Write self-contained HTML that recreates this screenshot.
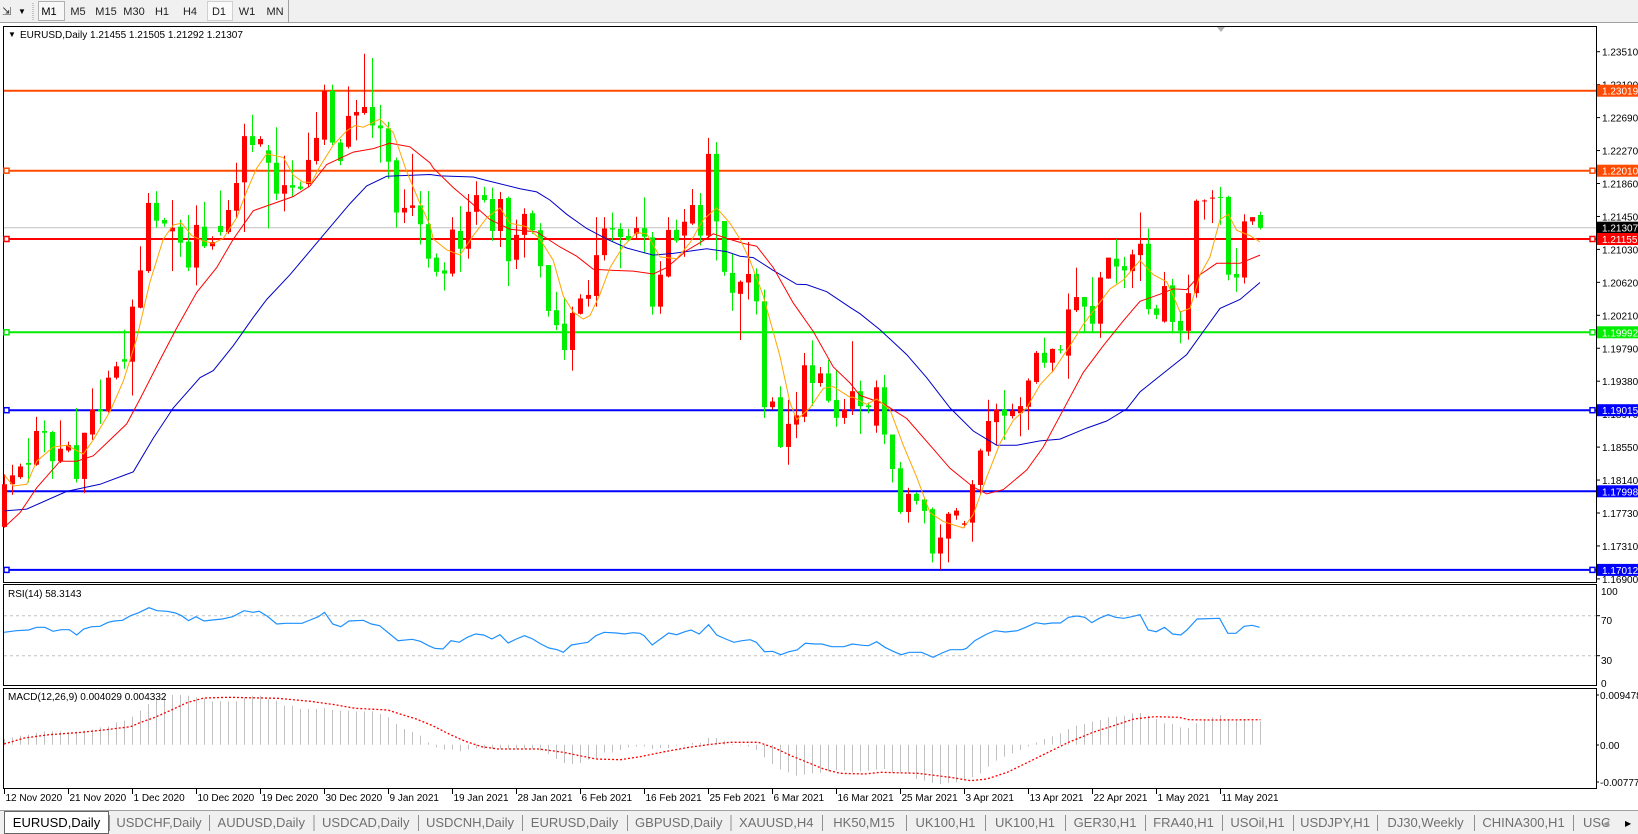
<!DOCTYPE html>
<html><head><meta charset="utf-8">
<style>
html,body{margin:0;padding:0;background:#fff;width:1638px;height:834px;overflow:hidden}
svg{display:block;font-family:"Liberation Sans",Arial,sans-serif}
</style></head>
<body>
<svg id="s" width="1638" height="834" xmlns="http://www.w3.org/2000/svg">
<rect x="0" y="0" width="1638" height="834" fill="#fff"/>
<!-- toolbar -->
<rect x="0" y="0" width="1638" height="23" fill="#f0f0f0"/>
<line x1="0" y1="22.5" x2="1638" y2="22.5" stroke="#a0a0a0"/>
<text x="2" y="15" font-size="11" fill="#333">⇲</text>
<text x="18" y="14" font-size="8" fill="#000">▼</text>
<line x1="33" y1="3" x2="33" y2="20" stroke="#999" stroke-dasharray="1,1"/>
<rect x="38.5" y="1.5" width="26" height="19" fill="#f7f7f7" stroke="#b0b0b0"/>
<rect x="207.5" y="1.5" width="25" height="19" fill="#fafafa" stroke="#d0d0d0"/>
<line x1="288.5" y1="0" x2="288.5" y2="22" stroke="#a0a0a0"/>
<g font-size="11" fill="#222" text-anchor="middle">
<text x="49" y="15" fill="#000">M1</text><text x="78" y="15">M5</text><text x="106" y="15">M15</text><text x="134" y="15">M30</text><text x="162" y="15">H1</text><text x="190" y="15">H4</text><text x="219" y="15">D1</text><text x="247" y="15">W1</text><text x="275" y="15">MN</text>
</g>
<!-- panes -->
<rect x="3.5" y="26.5" width="1593" height="556" fill="#fff" stroke="#000"/>
<rect x="3.5" y="584.5" width="1593" height="101" fill="#fff" stroke="#000"/>
<rect x="3.5" y="688.5" width="1593" height="100" fill="#fff" stroke="#000"/>
<!-- tabs background -->
<rect x="0" y="810" width="1638" height="24" fill="#f0f0f0"/>
<line x1="0" y1="810.5" x2="1638" y2="810.5" stroke="#a0a0a0"/>
<rect x="4.5" y="811.5" width="104" height="22" fill="#fff" stroke="#666"/>
<g id="g"></g>
<polygon points="1217,27 1225,27 1221,32" fill="#b0b0b0"/>
<text x="8" y="37" font-size="8" fill="#000">▼</text>
<text x="20" y="38" font-size="10" fill="#000">EURUSD,Daily  1.21455 1.21505 1.21292 1.21307</text>
<text x="8" y="597" font-size="10" fill="#000">RSI(14) 58.3143</text>
<text x="8" y="700" font-size="10" fill="#000">MACD(12,26,9) 0.004029 0.004332</text>
</svg>
<script>
var NS="http://www.w3.org/2000/svg",G=document.getElementById('g');
function el(t,a,txt){var e=document.createElementNS(NS,t);for(var k in a)e.setAttribute(k,a[k]);if(txt!=null)e.textContent=txt;G.appendChild(e);return e;}
function Y(z){return 26+z/2.815;}
var labs=["1.23510","1.23100","1.22690","1.22270","1.21860","1.21450","1.21030","1.20620","1.20210","1.19790","1.19380","1.18970","1.18550","1.18140","1.17730","1.17310","1.16900"];
for(var k=0;k<labs.length;k++){var y=51.7+k*32.95;el('line',{x1:1596,y1:y,x2:1600,y2:y,stroke:'#000'});el('text',{x:1602,y:y+4,'font-size':10,fill:'#000'},labs[k]);}
var lv=[[90.7,'#ff4a00','1.23019',0],[170.7,'#ff4a00','1.22010',1],[239,'#ff0000','1.21155',1],[332.3,'#00ee00','1.19992',1],[410.2,'#0000ff','1.19015',1],[491.3,'#0000ff','1.17998',0],[569.9,'#0000ff','1.17012',1]];
el('line',{x1:4,y1:227.7,x2:1596,y2:227.7,stroke:'#c0c0c0'});
el('rect',{x:1597,y:221.7,width:41,height:12,fill:'#000'});el('text',{x:1602,y:231.5,'font-size':10,fill:'#fff'},'1.21307');
lv.forEach(function(l){el('line',{x1:4,y1:l[0],x2:1596,y2:l[0],stroke:l[1],'stroke-width':2});
 if(l[3]){el('rect',{x:4,y:l[0]-2.5,width:5,height:5,fill:'#fff',stroke:l[1],'stroke-width':1.5});el('rect',{x:1590,y:l[0]-2.5,width:5,height:5,fill:'#fff',stroke:l[1],'stroke-width':1.5});}
 el('rect',{x:1597,y:l[0]-6,width:41,height:12,fill:l[1]});el('text',{x:1602,y:l[0]+4,'font-size':10,fill:'#fff'},l[2]);});
var B=[[1290,1410,1262,1412,'r'],[1265,1290,1235,1320,'r'],[1240,1270,1232,1275,'r'],[1230,1235,1160,1285,'g'],[1140,1235,1100,1238,'r'],[1140,1145,1110,1200,'g'],[1143,1225,1140,1275,'g'],[1190,1225,1110,1230,'r'],[1180,1195,1170,1200,'r'],[1180,1275,1075,1285,'g'],
[1145,1275,1145,1315,'r'],[1080,1150,1020,1165,'r'],[1080,1085,995,1120,'g'],[990,1085,970,1088,'r'],[958,990,945,995,'r'],[938,945,855,965,'g'],[790,945,770,1040,'r'],[688,793,620,795,'r'],[498,690,470,695,'r'],[498,548,465,568,'g'],
[546,556,540,565,'g'],[568,578,490,690,'r'],[565,610,545,650,'g'],[607,680,532,690,'g'],[560,680,505,730,'r'],[565,620,495,625,'g'],[608,620,592,630,'r'],[563,580,463,590,'g'],[518,580,490,585,'r'],[442,520,385,540,'r'],
[310,440,275,580,'r'],[310,335,250,355,'g'],[318,333,310,340,'r'],[350,385,335,570,'g'],[385,472,285,490,'g'],[448,472,365,522,'r'],[448,455,378,480,'g'],[452,458,438,462,'g'],[377,445,300,455,'r'],[315,380,242,390,'r'],
[183,320,165,335,'r'],[183,328,165,335,'g'],[328,380,318,392,'g'],[253,340,170,345,'r'],[242,252,208,322,'r'],[228,245,78,250,'r'],[228,280,90,315,'g'],[280,288,222,385,'g'],[288,382,270,430,'g'],[378,525,370,568,'g'],
[512,525,460,555,'r'],[505,512,360,535,'r'],[505,558,465,615,'g'],[558,655,465,680,'g'],[652,692,640,705,'g'],[688,697,665,745,'g'],[573,697,538,705,'r'],[577,627,507,692,'g'],[523,627,473,655,'r'],[476,523,437,560,'r'],
[476,490,453,497,'g'],[487,577,455,605,'g'],[487,577,467,622,'r'],[484,662,480,732,'g'],[588,658,545,684,'r'],[529,588,513,652,'r'],[527,575,519,585,'g'],[575,676,555,708,'g'],[673,802,673,818,'g'],[800,842,748,856,'g'],
[838,912,765,940,'g'],[808,912,790,970,'r'],[767,810,755,812,'r'],[757,768,715,790,'r'],[645,760,538,790,'r'],[570,645,538,660,'r'],[569,573,525,608,'g'],[571,594,555,682,'g'],[591,603,571,606,'g'],[569,585,537,600,'r'],
[569,593,482,640,'g'],[595,790,580,813,'g'],[700,790,662,810,'r'],[574,705,538,708,'r'],[574,604,545,610,'g'],[551,590,515,650,'r'],[504,556,459,560,'r'],[504,590,470,618,'g'],[360,590,315,600,'r'],[360,550,327,660,'g'],
[549,692,549,703,'g'],[695,751,640,802,'g'],[720,754,716,884,'r'],[698,722,608,770,'r'],[698,775,682,812,'g'],[775,1073,742,1103,'g'],[1057,1073,1045,1080,'r'],[1045,1185,1014,1188,'g'],[1120,1185,1052,1235,'r'],[1096,1122,1030,1160,'r'],
[955,1100,920,1115,'r'],[955,1005,885,1070,'g'],[978,1005,960,1015,'r'],[978,1055,940,1060,'g'],[1053,1103,968,1128,'g'],[1080,1103,1050,1120,'r'],[1028,1078,887,1095,'r'],[1028,1070,998,1148,'g'],[1068,1073,1060,1090,'g'],[1017,1125,998,1145,'r'],
[1017,1150,982,1177,'g'],[1150,1247,1150,1285,'g'],[1245,1368,1227,1373,'g'],[1317,1368,1300,1398,'r'],[1317,1337,1313,1347,'g'],[1333,1365,1330,1400,'g'],[1360,1485,1355,1510,'g'],[1440,1485,1403,1530,'r'],[1373,1443,1368,1510,'r'],[1364,1378,1357,1390,'r'],
[1400,1404,1393,1412,'r'],[1290,1398,1278,1452,'r'],[1195,1292,1190,1320,'r'],[1112,1198,1052,1210,'r'],[1080,1115,1063,1180,'r'],[1080,1097,1025,1165,'g'],[1083,1098,1063,1105,'r'],[1070,1090,1045,1155,'r'],[998,1072,992,1137,'r'],[920,1002,915,1007,'r'],
[920,948,877,962,'g'],[909,948,908,975,'r'],[910,913,898,922,'g'],[798,928,753,993,'r'],[763,800,680,805,'r'],[763,790,763,865,'g'],[788,838,707,860,'g'],[708,838,692,878,'r'],[652,711,652,712,'r'],[655,677,600,725,'g'],
[676,688,650,738,'g'],[643,690,630,738,'r'],[613,645,525,718,'r'],[613,797,570,812,'g'],[795,813,785,825,'g'],[732,832,692,835,'r'],[730,833,712,865,'g'],[830,858,802,893,'g'],[752,858,700,883,'r'],[492,752,488,765,'r'],
[491,493,488,545,'r'],[483,486,462,555,'r'],[481,483,453,560,'g'],[481,700,478,716,'g'],[698,708,625,748,'g'],[550,708,530,725,'r'],[538,550,538,560,'r'],[532,568,523,573,'g']];
B.forEach(function(b,i){var x=4.5+8*i,c=b[4]=='r'?'#ff0000':'#00ee00';
 el('line',{x1:x,y1:Y(b[2]),x2:x,y2:Y(b[3]),stroke:c});
 var t=Y(b[0]),h=Math.max(1,Y(b[1])-t);el('rect',{x:x-2.5,y:t,width:5,height:h,fill:c});});
function poly(segs,col,w,xs,ys,y0,extra){var p=[];segs.forEach(function(s){var o=s[0],a=s[1];for(var j=0;j<a.length;j+=2)p.push((o+a[j]/xs).toFixed(1)+','+(y0+a[j+1]/ys).toFixed(1));});
 var at={points:p.join(' '),fill:'none',stroke:col,'stroke-width':w};for(var k in extra)at[k]=extra[k];el('polyline',at);}
poly([[0,[14,1365,80,1360,200,1310,300,1290,400,1255,460,1160,520,1075,600,990,640,970,700,900,760,820,800,770,870,700,960,600,1050,500,1100,450,1160,423,1290,418]],
[420,[60,422,160,425,200,435,300,458,350,467,390,490,440,530,500,570,560,600,620,625,700,645,760,640,860,627,920,635,960,648,1000,652,1060,688,1130,727,1160,728,1220,748,1290,792]],
[840,[60,810,120,855,200,925,260,990,330,1075,400,1140,470,1180,530,1180,600,1168,660,1163,740,1132,800,1112,860,1078,900,1030,960,985,1040,925,1090,860,1140,795,1200,770,1260,722]]],'#0000c8',1,3,2.815,26);
poly([[0,[14,1410,60,1370,110,1300,180,1225,230,1225,280,1210,330,1165,380,1120,420,1050,480,940,530,850,590,750,650,680,700,600,760,520,820,500,880,480,930,450,980,390,1060,355,1120,345,1170,330,1230,340,1290,385]],
[420,[40,400,100,455,150,495,210,545,270,572,350,580,420,622,470,648,520,685,580,688,640,690,700,698,740,680,800,632,840,610,880,585,920,598,970,612,1010,620,1060,680,1120,780,1180,860,1240,960,1290,1005]],
[840,[60,1040,130,1063,200,1105,270,1180,330,1245,400,1298,440,1317,490,1305,560,1250,610,1185,670,1080,730,975,790,900,850,830,900,775,960,755,1000,740,1040,742,1080,700,1130,668,1200,668,1260,645]]],'#ff0000',1,3,2.815,26);
poly([[0,[14,1265,40,1295,80,1290,110,1225,160,1185,200,1180,250,1205,280,1165,330,1085,370,1000,410,880,450,720,490,600,520,560,545,555,575,590,610,605,640,612,670,598,710,540,740,465,770,400,800,360,850,370,880,420,910,440,935,440,960,395,1000,335,1040,295,1065,280,1090,285,1140,262,1180,300,1220,410,1260,500,1290,560]],
[420,[40,600,80,630,120,645,160,590,200,540,240,512,270,555,320,565,360,600,400,660,430,760,460,805,490,825,510,815,540,755,570,680,610,620,650,582,680,585,720,650,770,655,810,610,850,545,890,512,930,555,960,600,990,660,1030,760,1080,930,1110,1060,1130,1108,1170,1075,1210,1020,1240,1015,1290,1045]],
[840,[40,1045,80,1065,110,1050,150,1080,190,1180,230,1270,270,1370,310,1395,370,1413,400,1375,440,1270,480,1175,520,1110,560,1075,600,1010,640,970,690,900,730,840,770,790,810,740,850,715,900,660,940,700,980,720,1000,760,1020,805,1050,795,1080,700,1110,650,1140,545,1165,530,1190,575,1230,590,1260,608]]],'#ffa500',1,3,2.815,26);
el('line',{x1:4,y1:615.7,x2:1596,y2:615.7,stroke:'#c0c0c0','stroke-dasharray':'3,3'});
el('line',{x1:4,y1:655.7,x2:1596,y2:655.7,stroke:'#c0c0c0','stroke-dasharray':'3,3'});
poly([[0,[10,145,40,140,70,138,90,130,110,130,130,142,150,137,170,137,188,153,205,135,225,128,245,127,265,115,280,111,300,109,320,95,340,86,365,71,385,80,410,82,430,87,445,95,462,110,480,98,500,111,520,108,545,105,570,98,598,80,620,85,635,82,655,97,678,120,700,118,740,118,760,108,780,98,795,85,815,120,835,128,855,111,890,109,910,120,930,125,955,150,975,170,1010,166,1030,172,1050,185,1065,193,1085,195,1105,170,1125,175,1145,160,1165,150,1185,153,1205,165,1225,152,1245,177,1265,165,1285,155,1305,165,1325,180,1345,192,1365,197,1380,205,1400,183,1425,178,1440,175,1460,155,1480,145,1510,147,1530,150,1550,146,1568,148]],
[640,[10,155,30,183,50,165,70,147,90,152,110,143,125,138,145,150,168,122,188,153,210,165,230,175,250,170,270,167,285,175,305,203,325,202,345,212,365,203,385,198,405,178,430,180,445,180,470,188,500,188,520,180,545,184,560,185,580,173,600,190,620,202,640,212,660,205,690,205,718,220,740,207,760,197,790,197,800,193,820,170,850,150,870,140,895,144,925,140,945,130,970,116,990,120,1010,117,1030,117,1050,100,1070,96,1090,100,1107,116,1125,103,1147,92,1165,100,1185,103,1205,98,1225,92,1245,138,1265,143,1285,130,1305,150,1325,153,1340,138,1365,105,1420,103,1440,148,1460,148,1480,127,1500,124,1518,130]]],'#1e90ff',1.2,2.45,3,584);
var H=[465,460,455,452,447,442,442,442,445,443,440,437,430,427,415,410,398,380,360,345,335,333,333,335,340,342,352,352,352,352,340,335,335,345,350,365,365,375,375,375,372,378,380,380,382,382,382,390,400,420,435,444,455,475,490,497,497,502,497,493,495,495,495,495,495,495,495,500,510,525,537,540,537,527,522,505,505,498,490,488,487,495,492,492,485,485,477,477,462,462,470,480,485,488,498,520,540,557,565,575,572,568,567,562,560,560,565,562,560,557,555,565,565,568,585,590,597,600,597,595,590,580,568,548,530,518,508,498,487,475,465,457,448,435,425,420,413,408,400,398,395,388,387,395,405,418,420,430,432,418,410,400,393,405,410,410,410,413];
var z0=744.7;H.forEach(function(h,i){var x=4.5+8*i,y=584+h/3;el('line',{x1:x,y1:z0,x2:x,y2:y,stroke:'#c0c0c0','stroke-width':1});});
poly([[0,[10,480,60,462,120,452,200,445,260,437,320,428,345,415,380,400,420,378,460,355,500,342,560,340,680,343,760,352,820,362,870,373,950,378,980,390,1020,405,1060,425,1100,450,1140,472,1180,488,1220,495,1320,495,1380,505,1420,515,1460,525,1520,527,1568,518]],
[640,[60,503,120,490,180,480,220,475,290,475,330,492,370,515,410,535,450,555,490,568,550,570,590,565,680,568,760,580,810,590,850,585,900,565,950,535,1000,505,1050,475,1110,445,1160,425,1210,405,1260,398,1320,400,1345,407,1400,408,1520,407]]],'#ff0000',1.3,2.45,3,584,{'stroke-dasharray':'2,2'});
[[591,'100'],[620,'70'],[660,'30'],[683,'0']].forEach(function(a){el('text',{x:1601,y:a[0]+4,'font-size':10,fill:'#000'},a[1]);});
[[615.7],[655.7]].forEach(function(a){el('line',{x1:1596,y1:a[0],x2:1600,y2:a[0],stroke:'#000'});});
[[695,'0.009478'],[745,'0.00'],[782,'-0.007778']].forEach(function(a){el('text',{x:1600,y:a[0]+4,'font-size':10,fill:'#000'},a[1]);el('line',{x1:1596,y1:a[0],x2:1599,y2:a[0],stroke:'#000'});});
var D=["12 Nov 2020","21 Nov 2020","1 Dec 2020","10 Dec 2020","19 Dec 2020","30 Dec 2020","9 Jan 2021","19 Jan 2021","28 Jan 2021","6 Feb 2021","16 Feb 2021","25 Feb 2021","6 Mar 2021","16 Mar 2021","25 Mar 2021","3 Apr 2021","13 Apr 2021","22 Apr 2021","1 May 2021","11 May 2021"];
D.forEach(function(d,i){var x=4.5+64*i;el('line',{x1:x,y1:789,x2:x,y2:794,stroke:'#000'});el('text',{x:x+1,y:801,'font-size':10,fill:'#000'},d);});
var T=["EURUSD,Daily","USDCHF,Daily","AUDUSD,Daily","USDCAD,Daily","USDCNH,Daily","EURUSD,Daily","GBPUSD,Daily","XAUUSD,H4","HK50,M15","UK100,H1","UK100,H1","GER30,H1","FRA40,H1","USOil,H1","USDJPY,H1","DJ30,Weekly","CHINA300,H1"];
var S=[4,109,209,313.5,418,522,627,730.5,822,906,985,1065,1145,1222,1293,1377,1474,1573];
T.forEach(function(t,i){var c=(S[i]+S[i+1])/2;el('text',{x:c,y:827,'font-size':13,fill:i?'#707070':'#000','text-anchor':'middle'},t);if(i)el('line',{x1:S[i]+.5,y1:815,x2:S[i]+.5,y2:831,stroke:'#909090'});});
el('line',{x1:1573.5,y1:815,x2:1573.5,y2:831,stroke:'#909090'});
el('text',{x:1583,y:827,'font-size':13,fill:'#707070'},'USC');
el('text',{x:1603,y:826,'font-size':8,fill:'#999'},'◀');el('text',{x:1625,y:826,'font-size':8,fill:'#000'},'▶');
</script>
</body></html>
